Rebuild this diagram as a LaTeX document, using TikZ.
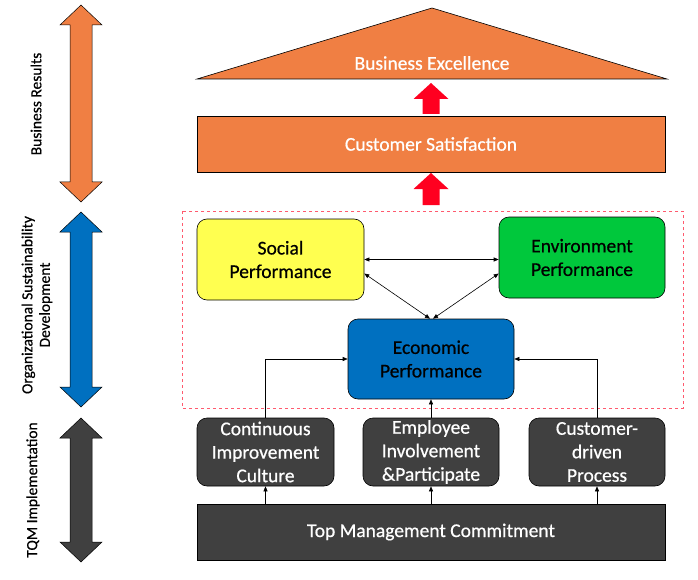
\documentclass[tikz,border=0pt]{standalone}
\usepackage{fontspec}
\setmainfont{Carlito}[FakeBold=0.6]
\usetikzlibrary{arrows.meta,calc}
\definecolor{orng}{HTML}{F07F43}
\definecolor{redarr}{HTML}{FF0020}
\definecolor{yel}{HTML}{FFFF50}
\definecolor{grn}{HTML}{00C83C}
\definecolor{blu}{HTML}{0070C0}
\definecolor{drk}{HTML}{404040}
\definecolor{dashred}{HTML}{FF5A6E}
\newcommand\dblarr[4]{%
  \filldraw[fill=#4,draw=black,line width=0.5pt]
   (#1,#2) -- ++(21,20) -- ++(-10,0) -- (#1+11,#3-20) -- ++(10,0) -- (#1,#3)
   -- (#1-21,#3-20) -- ++(10,0) -- (#1-11,#2+20) -- ++(-10,0) -- cycle;}
\newcommand\redup[4]{%
  \fill[redarr] (#1,#2) -- (#1+17.5,#3) -- (#1+8.5,#3) -- (#1+8.5,#4) -- (#1-8.5,#4) -- (#1-8.5,#3) -- (#1-17.5,#3) -- cycle;}
\tikzset{
  bigtxt/.style={font=\fontsize{19.5}{23.5}\selectfont},
  sidetxt/.style={font=\fontsize{15.5}{17.5}\selectfont, align=center, rotate=90},
  box/.style={draw=black, line width=0.6pt, rounded corners=10pt, align=center, bigtxt, inner sep=0pt},
  bar/.style={draw=black, line width=0.6pt, align=center, bigtxt, inner sep=0pt},
  conn/.style={line width=0.6pt, -{Triangle[length=5pt,width=4pt]}},
  bconn/.style={line width=0.6pt, {Triangle[length=5pt,width=4pt]}-{Triangle[length=5pt,width=4pt]}}
}
\begin{document}
\begin{tikzpicture}[x=1pt,y=-1pt]
\useasboundingbox (0,0) rectangle (698,580);
% side arrows
\dblarr{81}{5}{202}{orng}
\dblarr{81}{212}{407}{blu}
\dblarr{81}{418}{562}{drk}
\node[sidetxt] (lbl1) at (36,104) {Business Results};
\node[sidetxt] (lbl2) at (37,305) {Organizational Sustainability\\Development};
\node[sidetxt] (lbl3) at (33,490) {TQM Implementation};
% roof
\filldraw[fill=orng,draw=black,line width=0.6pt] (197,79) -- (432,8) -- (667,79) -- cycle;
\node[bigtxt,text=white] (be) at (432,63) {Business Excellence};
% customer satisfaction
\node[bar,fill=orng,text=white,minimum width=468pt,minimum height=56pt] (cs) at (431,144) {Customer Satisfaction};
% red arrows
\redup{431}{83}{99}{114}
\redup{431}{173}{189}{205}
% dashed frame
\draw[dashred,dashed,line width=0.7pt] (182,211) rectangle (683,408);
% performance boxes
\node[box,fill=yel,minimum width=167pt,minimum height=81pt] (soc) at (280.5,259.5) {Social\\Performance};
\node[box,fill=grn,minimum width=166pt,minimum height=81pt] (env) at (582,257.5) {Environment\\Performance};
\node[box,fill=blu,minimum width=166pt,minimum height=80pt] (eco) at (431,359) {Economic\\Performance};
% TQM boxes
\node[box,fill=drk,text=white,minimum width=137pt,minimum height=68pt] (cont) at (265.5,452) {Continuous\\Improvement\\Culture};
\node[box,fill=drk,text=white,minimum width=136pt,minimum height=68pt] (emp) at (431,452) {Employee\\Involvement\\\&Participate};
\node[box,fill=drk,text=white,minimum width=136pt,minimum height=68pt] (cust) at (597,452) {Customer-\\driven\\Process};
\node[bar,fill=drk,text=white,minimum width=468pt,minimum height=56pt] (top) at (431,532) {Top Management Commitment};
% connectors
\draw[bconn] (soc.east) -- (soc.east -| env.west);
\draw[bconn] ([yshift=-14pt]soc.east) -- ([xshift=-1pt]eco.north);
\draw[bconn] ([yshift=-16pt]env.west) -- ([xshift=2pt]eco.north);
\draw[conn] (cont.north) |- (eco.west);
\draw[conn] (cust.north) |- (eco.east);
\draw[conn] (emp.north) -- (eco.south);
\draw[conn] (top.north -| cont.north) -- (cont.south);
\draw[conn] (top.north -| emp.north) -- (emp.south);
\draw[conn] (top.north -| cust.north) -- (cust.south);
\end{tikzpicture}
\end{document}
